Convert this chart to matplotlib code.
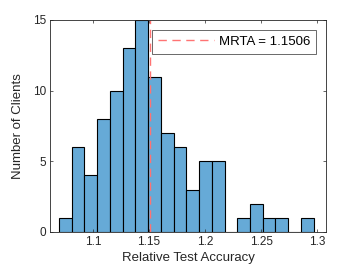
import numpy as np
import matplotlib
matplotlib.use('Agg')
import matplotlib.pyplot as plt

plt.rcParams['font.family'] = ['Liberation Sans', 'DejaVu Sans']

# histogram: 20 bins
bin_start = 1.0696
bin_width = 0.011362
counts = [1, 6, 4, 8, 10, 13, 15, 11, 7, 6, 3, 5, 5, 0, 1, 2, 1, 1, 0, 1]
mrta = 1.1506
xticks = [1.1, 1.15, 1.2, 1.25, 1.3]
yticks = [0, 5, 10, 15]

edges = bin_start + bin_width * np.arange(len(counts) + 1)
centers = (edges[:-1] + edges[1:]) / 2

fig = plt.figure(figsize=(3.6, 2.7), dpi=100)
ax = fig.add_axes([0.139, 0.141, 0.767, 0.785])

ax.hist(centers, bins=edges, weights=counts, color=(0.4, 0.668, 0.845),
        edgecolor='black', linewidth=0.8)
ax.axvline(mrta, color=(1, 0.45, 0.45), linestyle=(0, (6, 4)), linewidth=1.0,
           label='MRTA = %.4f' % mrta)

ax.set_xlim(1.0616, 1.308)
ax.set_ylim(0, 15)
ax.set_xticks(xticks)
ax.set_xticklabels(['1.1', '1.15', '1.2', '1.25', '1.3'])
ax.set_yticks(yticks)
ax.tick_params(direction='in', length=2.5, width=0.5, labelsize=8.5,
               colors=(0.15, 0.15, 0.15), top=True, right=True, pad=3)
for s in ax.spines.values():
    s.set_linewidth(0.6)
    s.set_color((0.15, 0.15, 0.15))

ax.set_xlabel('Relative Test Accuracy', fontsize=9.5, color=(0.15, 0.15, 0.15), labelpad=3)
ax.set_ylabel('Number of Clients', fontsize=9.5, color=(0.15, 0.15, 0.15), labelpad=6)

leg = ax.legend(loc='upper right', fontsize=9.5, frameon=True, fancybox=False,
                edgecolor=(0.15, 0.15, 0.15), handlelength=4.2,
                borderaxespad=0.75, borderpad=0.45, handletextpad=0.4)
leg.get_frame().set_linewidth(0.6)

fig.savefig('out.png', dpi=100)
